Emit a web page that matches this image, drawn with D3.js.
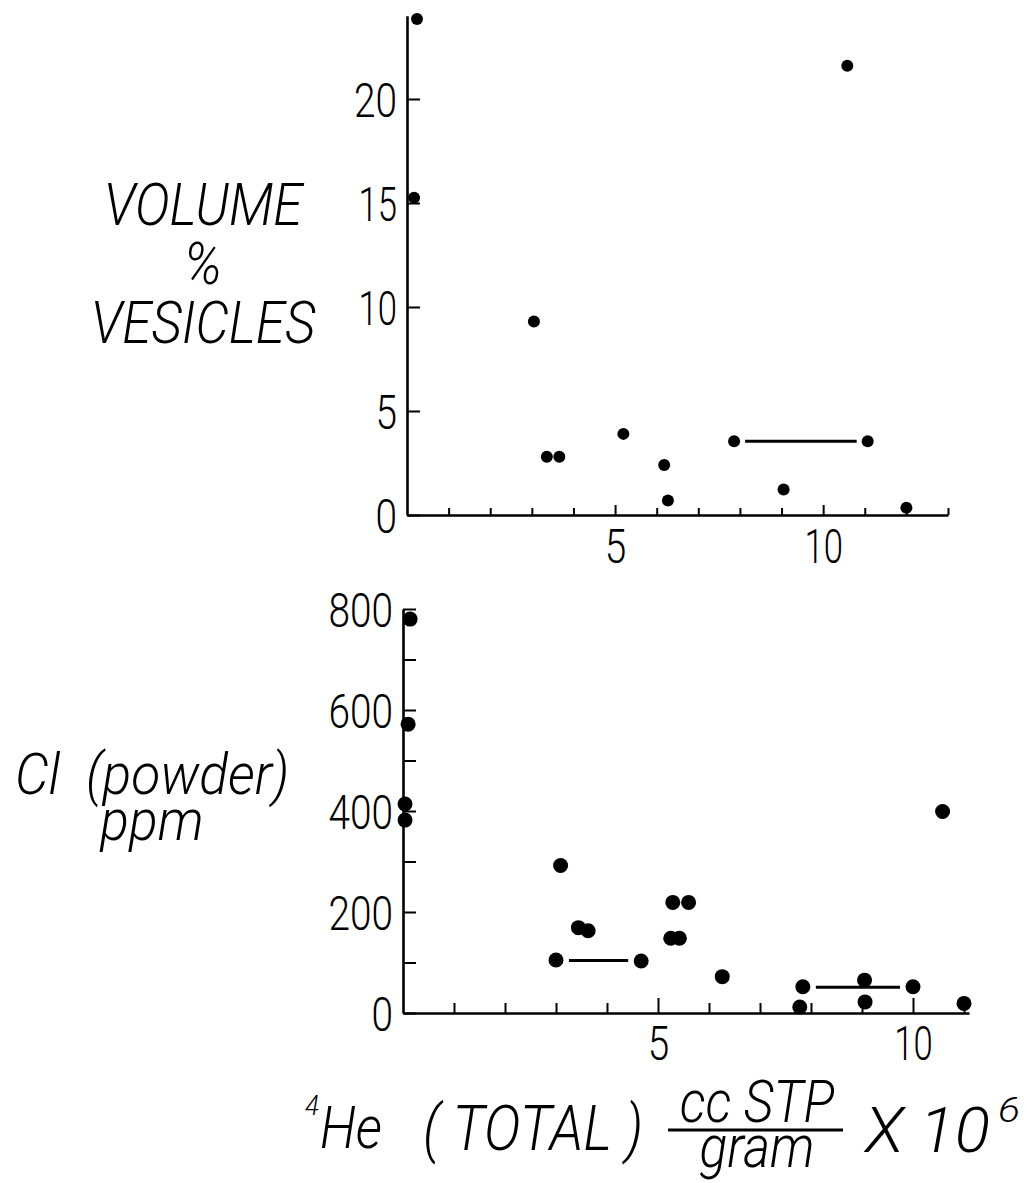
<!DOCTYPE html>
<html><head><meta charset="utf-8">
<script src="https://cdn.jsdelivr.net/npm/d3@7"></script>
<style>
body{margin:0;background:#fff;position:relative;width:1034px;height:1183px;overflow:hidden}
svg{display:block;position:absolute;left:0;top:0}
.stack{position:absolute;white-space:pre;text-align:center;font-family:Roboto,'DejaVu Sans',sans-serif;
  font-style:italic;font-weight:300;color:#000;transform-origin:50% 0}
</style>
</head><body><svg id="c" width="1034" height="1183"></svg>
<script>
// ---------- data ----------
// upper panel: 4He (total, cc STP/g x 1e6) vs volume % vesicles
const topHe  = [0.24, 0.17, 3.05, 3.36, 3.66, 5.20, 6.18, 6.27, 7.86, 11.07, 9.05, 12.0, 10.58];
const topVol = [23.85, 15.25, 9.3, 2.8, 2.8, 3.9, 2.4, 0.7, 3.55, 3.55, 1.23, 0.35, 21.6];
const topPairHe = [7.86, 11.07];
const topPairVol = 3.55;
// lower panel: 4He vs Cl (powder) ppm
const clHe  = [0.14, 0.10, 0.04, 0.04, 3.09, 3.44, 3.63, 3.0, 4.67, 5.29, 5.6, 5.25, 5.42, 6.26, 7.84, 7.78, 9.05, 9.06, 10.0, 10.58, 11.0];
const clPpm = [780, 572, 414, 382, 292, 169, 163, 105, 103, 219, 219, 148, 148, 72, 52, 12, 65, 22, 52, 399, 19];
const clPair1He = [3.0, 4.67];
const clPair1Ppm = 104;
const clPair2He = [7.84, 10.0];
const clPair2Ppm = 51;
// ticks
const topXTicks = [1,2,3,4,5,6,7,8,9,10,11,12,13];
const topXLabels = [5,10];
const topYTicks = [0,5,10,15,20];
const clXTicks = [1,2,3,4,5,6,7,8,9,10,11];
const clXLabels = [5,10];
const clYTicks = [0,100,200,300,400,500,600,700,800];
const clYLabels = [0,200,400,600,800];

// ---------- drawing ----------
const svg = d3.select('#c');
const FONT = "Roboto, 'DejaVu Sans', sans-serif";
function digitsWidth(s){ let w=0; for (const ch of s) w += (ch==='1') ? 17 : 21.5; return w; }

function styleAxis(g){
  g.select('.domain').attr('stroke','#000').attr('stroke-width',2.6);
  g.selectAll('.tick line').attr('stroke','#000').attr('stroke-width',2);
  g.selectAll('.tick text')
    .attr('font-family',FONT).attr('font-weight',300).attr('font-size',48).attr('fill','#000')
    .each(function(){
      const t = d3.select(this).text();
      if (t) d3.select(this).attr('textLength',digitsWidth(t)).attr('lengthAdjust','spacingAndGlyphs');
    });
}

// upper panel scales
const xT = d3.scaleLinear().domain([0,13]).range([407,948]);
const yT = d3.scaleLinear().domain([0,24]).range([515, 515-24*20.8]);

const gxT = svg.append('g').attr('transform',`translate(0,${yT(0)})`)
  .call(d3.axisBottom(xT).tickValues(topXTicks).tickSizeInner(-7).tickSizeOuter(0).tickPadding(13)
    .tickFormat(d => topXLabels.includes(d) ? String(d) : ''));
gxT.selectAll('.tick line').attr('y2', d => topXLabels.includes(d) ? -10 : -7);
gxT.selectAll('.tick text').attr('dy','0.72em');
styleAxis(gxT);

const gyT = svg.append('g').attr('transform',`translate(${xT(0)},0)`)
  .call(d3.axisLeft(yT).tickValues(topYTicks).tickSizeInner(-13).tickSizeOuter(0).tickPadding(10)
    .tickFormat(d => String(d)));
gyT.selectAll('.tick text').attr('dy','0.36em');
styleAxis(gyT);

svg.append('line')
  .attr('x1', xT(topPairHe[0]) + 11).attr('x2', xT(topPairHe[1]) - 11)
  .attr('y1', yT(topPairVol)).attr('y2', yT(topPairVol))
  .attr('stroke','#000').attr('stroke-width',3);

svg.append('g').selectAll('circle').data(topHe).join('circle')
  .attr('cx', (d,i) => xT(d)).attr('cy', (d,i) => yT(topVol[i])).attr('r',6).attr('fill','#000');

// lower panel scales
const xB = d3.scaleLinear().domain([0,11.1]).range([403, 403+11.1*51]);
const yB = d3.scaleLinear().domain([0,800]).range([1013,609]);

const gxB = svg.append('g').attr('transform',`translate(0,${yB(0)})`)
  .call(d3.axisBottom(xB).tickValues(clXTicks).tickSizeInner(-10).tickSizeOuter(0).tickPadding(12)
    .tickFormat(d => clXLabels.includes(d) ? String(d) : ''));
gxB.selectAll('.tick line').attr('y2', d => clXLabels.includes(d) ? -15 : -10);
gxB.selectAll('.tick text').attr('dy','0.72em');
styleAxis(gxB);

const gyB = svg.append('g').attr('transform',`translate(${xB(0)},0)`)
  .call(d3.axisLeft(yB).tickValues(clYTicks).tickSizeInner(-13).tickSizeOuter(0).tickPadding(10)
    .tickFormat(d => clYLabels.includes(d) ? String(d) : ''));
gyB.selectAll('.tick text').attr('dy','0.36em');
styleAxis(gyB);

[[clPair1He, clPair1Ppm],[clPair2He, clPair2Ppm]].forEach(([he, p]) => {
  svg.append('line')
    .attr('x1', xB(he[0]) + 13).attr('x2', xB(he[1]) - 13)
    .attr('y1', yB(p)).attr('y2', yB(p))
    .attr('stroke','#000').attr('stroke-width',3);
});

svg.append('g').selectAll('circle').data(clHe).join('circle')
  .attr('cx', (d,i) => xB(d)).attr('cy', (d,i) => yB(clPpm[i])).attr('r',7.5).attr('fill','#000');

// ---------- lettering ----------
function lab(text, x, y, w, size){
  svg.append('text').attr('x',x).attr('y',y)
    .attr('font-family',FONT).attr('font-style','italic').attr('font-weight',300)
    .attr('font-size',size).attr('fill','#000')
    .attr('textLength',w).attr('lengthAdjust','spacingAndGlyphs').text(text);
}
// stacked labels: one text block each, lines set tight as in the hand lettering
function stack(text, cx, top, size, lh, sx){
  d3.select('body').append('div').attr('class','stack')
    .style('left', (cx - 200) + 'px').style('width','400px').style('top', top + 'px')
    .style('font-size', size + 'px').style('line-height', lh + 'px')
    .style('transform', `scaleX(${sx})`)
    .text(text);
}
stack('VOLUME\n%\nVESICLES', 203, 175, 60, 59, 0.88);
stack('Cl  (powder)\nppm', 152, 751, 58, 46, 0.92);
stack('cc STP\ngram', 757, 1079, 60, 45, 0.86);

lab('4', 305, 1115, 14, 28);
lab('He', 320, 1148, 62, 60);
lab('( TOTAL )', 423, 1150, 220, 62);
svg.append('line').attr('x1',668).attr('x2',843).attr('y1',1130).attr('y2',1130)
  .attr('stroke','#000').attr('stroke-width',3);
lab('X 10', 865, 1152, 125, 62);
lab('6', 998, 1122, 22, 35);
</script></body></html>
